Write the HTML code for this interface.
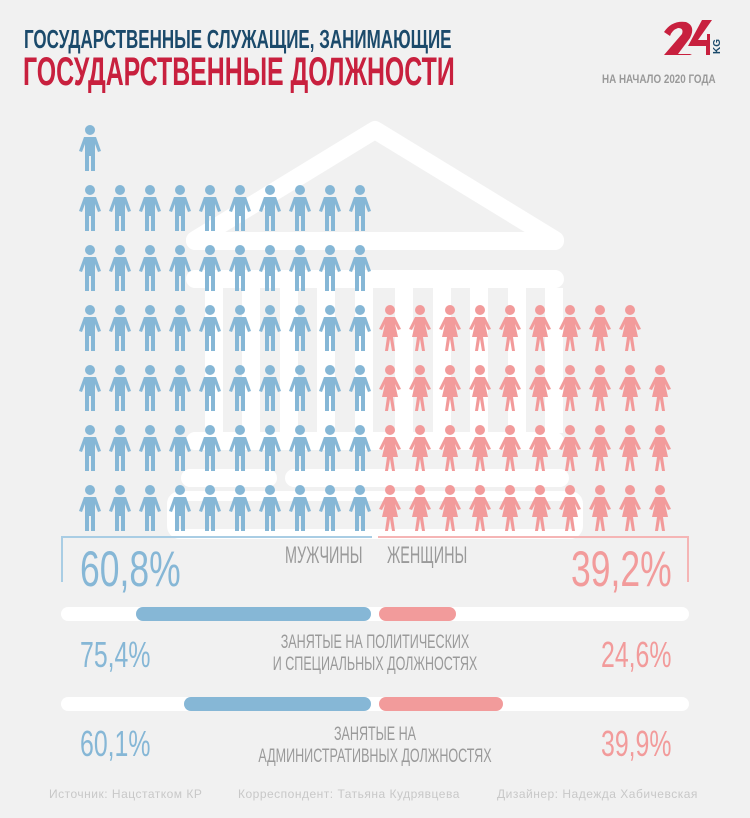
<!DOCTYPE html>
<html><head><meta charset="utf-8"><style>
body{margin:0;width:750px;height:818px;background:#f1f1f1;position:relative;overflow:hidden;font-family:"Liberation Sans",sans-serif}
.t{position:absolute;white-space:nowrap;transform-origin:0 0;font-weight:bold}
.c{position:absolute;white-space:nowrap;text-align:center;color:#9a9a9a;font-size:19px;line-height:22px;transform:scaleX(0.66);transform-origin:50% 0}
</style></head><body>
<div class="t" style="left:24px;top:24px;color:#1b4a6b;font-size:26px;transform:scaleX(0.654)">ГОСУДАРСТВЕННЫЕ СЛУЖАЩИЕ, ЗАНИМАЮЩИЕ</div>
<div class="t" style="left:23px;top:50px;color:#c8203e;font-size:40px;transform:scaleX(0.622)">ГОСУДАРСТВЕННЫЕ ДОЛЖНОСТИ</div>
<div class="t" style="left:602px;top:72px;color:#999;font-size:12px;transform:scaleX(0.82)">НА НАЧАЛО 2020 ГОДА</div>
<svg style="position:absolute;left:660px;top:18px" width="70" height="40">
<path d="M4 14 Q12 2 26 4 Q36 8 30 20 L18 36 L32 36 L30 37 L4 37 L22 16 Q24 10 18 10 Q12 12 10 18 Z" fill="#c8203e"/>
<path d="M42 2 L52 2 L38 22 L47 22 L47 16 L50 16 L50 37 L46 37 L46 28 L28 28 Z" fill="#c8203e"/>
<text x="0" y="0" transform="translate(60,36) rotate(-90)" font-size="10" font-weight="bold" fill="#1b4a6b" font-family="Liberation Sans">KG</text>
</svg>
<svg style="position:absolute;left:0;top:0" width="750" height="818">
<defs>
<g id="m"><circle cx="0" cy="5" r="5"/><path d="M-6 12 L6 12 L11 26 L8 27 L5 19 L5 46 L1 46 L1 31 L-1 31 L-1 46 L-5 46 L-5 19 L-8 27 L-11 26 Z"/></g>
<g id="w"><circle cx="0" cy="5" r="5"/><path d="M-5 12 L5 12 L11 24 L8 25 L5 19 L8 32 L3 32 L5 46 L2 46 L0 34 L-2 46 L-5 46 L-3 32 L-8 32 L-5 19 L-8 25 L-11 24 Z"/></g>
</defs>
<g fill="none" stroke="#fff" stroke-width="18" stroke-linecap="round" stroke-linejoin="round">
<polyline points="195,240 375,130 555,240"/>
<line x1="195" y1="241" x2="555" y2="241"/>
<line x1="195" y1="279" x2="555" y2="279"/>
<line x1="195" y1="441" x2="555" y2="441"/>
<line x1="190" y1="478" x2="268" y2="478"/>
<line x1="294" y1="478" x2="560" y2="478"/>
</g>
<g fill="#fff">
<rect x="205" y="288" width="18" height="145"/><rect x="242" y="288" width="18" height="145"/><rect x="280" y="288" width="18" height="145"/><rect x="317" y="288" width="18" height="145"/><rect x="355" y="288" width="18" height="145"/><rect x="395" y="288" width="18" height="145"/><rect x="433" y="288" width="18" height="145"/><rect x="470" y="288" width="18" height="145"/><rect x="508" y="288" width="18" height="145"/><rect x="545" y="288" width="18" height="145"/>
</g>
<rect x="172" y="496" width="406" height="38" rx="8" fill="none" stroke="#fff" stroke-width="10"/>
<g fill="#86b7d6">
<use href="#m" x="90" y="125"/>
<g id="mr"><use href="#m" x="90" y="185"/><use href="#m" x="120" y="185"/><use href="#m" x="150" y="185"/><use href="#m" x="180" y="185"/><use href="#m" x="210" y="185"/><use href="#m" x="240" y="185"/><use href="#m" x="270" y="185"/><use href="#m" x="300" y="185"/><use href="#m" x="330" y="185"/><use href="#m" x="360" y="185"/></g>
<use href="#mr" y="60"/><use href="#mr" y="120"/><use href="#mr" y="180"/><use href="#mr" y="240"/><use href="#mr" y="300"/>
</g>
<g fill="#f29b9b">
<g id="wr9"><use href="#w" x="390" y="305"/><use href="#w" x="420" y="305"/><use href="#w" x="450" y="305"/><use href="#w" x="480" y="305"/><use href="#w" x="510" y="305"/><use href="#w" x="540" y="305"/><use href="#w" x="570" y="305"/><use href="#w" x="600" y="305"/><use href="#w" x="630" y="305"/></g>
<use href="#wr9" y="60"/><use href="#wr9" y="120"/><use href="#wr9" y="180"/>
<use href="#w" x="660" y="365"/><use href="#w" x="660" y="425"/><use href="#w" x="660" y="485"/>
</g>
<polyline points="62,582 62,537 372,537" fill="none" stroke="#a9cde4" stroke-width="2"/>
<polyline points="378,537 688,537 688,582" fill="none" stroke="#f5b5b5" stroke-width="2"/>
<line x1="68" y1="614" x2="682" y2="614" stroke="#fff" stroke-width="14" stroke-linecap="round"/>
<line x1="143" y1="614" x2="364" y2="614" stroke="#86b7d6" stroke-width="14" stroke-linecap="round"/>
<line x1="386" y1="614" x2="449" y2="614" stroke="#f29b9b" stroke-width="14" stroke-linecap="round"/>
<line x1="68" y1="704" x2="682" y2="704" stroke="#fff" stroke-width="14" stroke-linecap="round"/>
<line x1="191" y1="704" x2="364" y2="704" stroke="#86b7d6" stroke-width="14" stroke-linecap="round"/>
<line x1="386" y1="704" x2="496" y2="704" stroke="#f29b9b" stroke-width="14" stroke-linecap="round"/>
</svg>
<div class="t" style="left:80px;top:540px;color:#86b7d6;font-size:50px;font-weight:normal;transform:scaleX(0.71)">60,8%</div>
<div class="t" style="left:571px;top:540px;color:#f29b9b;font-size:50px;font-weight:normal;transform:scaleX(0.71)">39,2%</div>
<div class="t" style="left:285px;top:542px;color:#9a9a9a;font-size:24px;font-weight:normal;transform:scaleX(0.6)">МУЖЧИНЫ</div>
<div class="t" style="left:387px;top:542px;color:#9a9a9a;font-size:24px;font-weight:normal;transform:scaleX(0.6)">ЖЕНЩИНЫ</div>
<div class="t" style="left:80px;top:634px;color:#86b7d6;font-size:36px;font-weight:normal;transform:scaleX(0.69)">75,4%</div>
<div class="t" style="left:601px;top:634px;color:#f29b9b;font-size:36px;font-weight:normal;transform:scaleX(0.69)">24,6%</div>
<div class="c" style="left:175px;width:400px;top:632px">ЗАНЯТЫЕ НА ПОЛИТИЧЕСКИХ<br>И СПЕЦИАЛЬНЫХ ДОЛЖНОСТЯХ</div>
<div class="t" style="left:80px;top:723px;color:#86b7d6;font-size:36px;font-weight:normal;transform:scaleX(0.69)">60,1%</div>
<div class="t" style="left:601px;top:723px;color:#f29b9b;font-size:36px;font-weight:normal;transform:scaleX(0.69)">39,9%</div>
<div class="c" style="left:175px;width:400px;top:724px">ЗАНЯТЫЕ НА<br>АДМИНИСТРАТИВНЫХ ДОЛЖНОСТЯХ</div>
<div class="t" style="left:49px;top:787px;color:#c8c8c8;font-size:12px;font-weight:normal;letter-spacing:0.5px">Источник: Нацстатком КР</div>
<div class="t" style="left:238px;top:787px;color:#c8c8c8;font-size:12px;font-weight:normal;letter-spacing:0.5px">Корреспондент: Татьяна Кудрявцева</div>
<div class="t" style="left:497px;top:787px;color:#c8c8c8;font-size:12px;font-weight:normal;letter-spacing:0.5px">Дизайнер: Надежда Хабичевская</div>
</body></html>
